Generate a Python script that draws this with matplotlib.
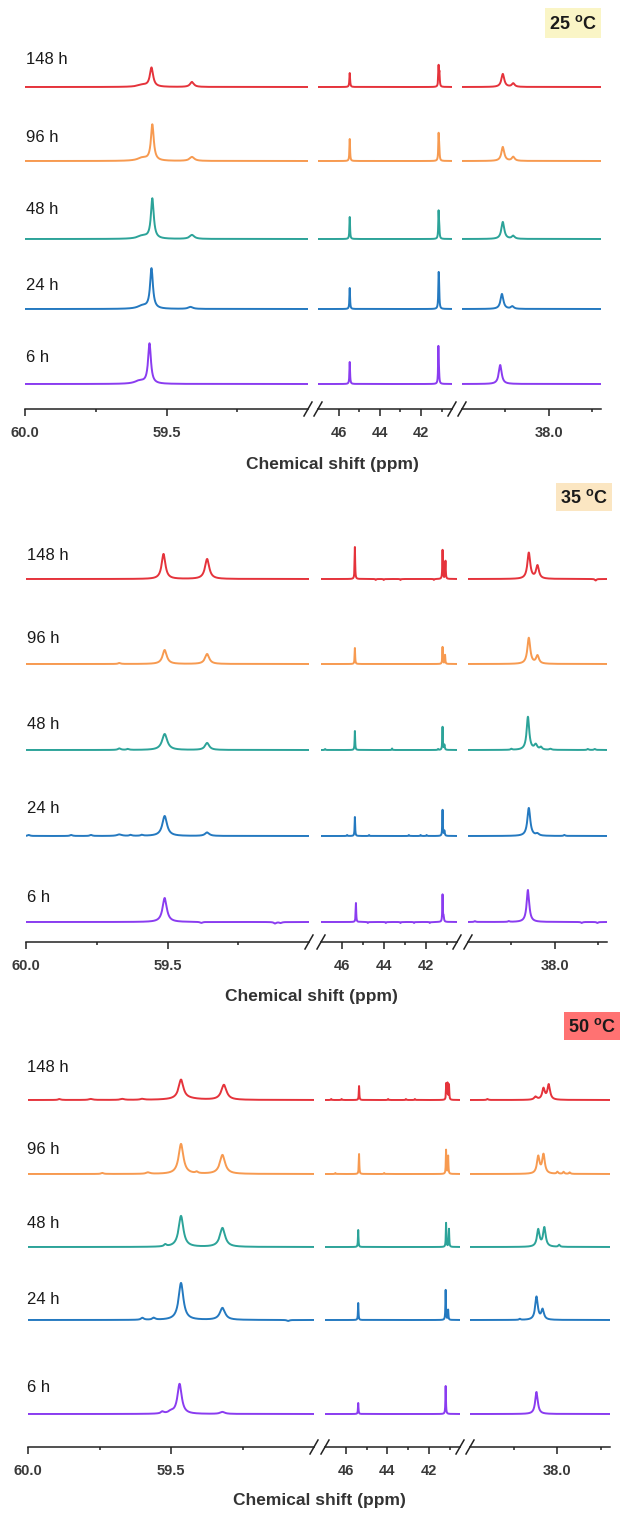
import numpy as np
import matplotlib
matplotlib.use("Agg")
import matplotlib.pyplot as plt
from matplotlib.lines import Line2D
from matplotlib.patches import Rectangle

plt.rcParams['font.family'] = ['Liberation Sans', 'DejaVu Sans']

# ---------------- data ----------------
times = ["148 h", "96 h", "48 h", "24 h", "6 h"]
line_colors = ["#E5333B", "#F79A50", "#2CA399", "#2479C0", "#8A3CF0"]
temperatures = ["25", "35", "50"]
box_colors = ["#FAF5C6", "#FBE6C2", "#FF7272"]

seg_ranges = [(60.0, 59.0), (47.0, 40.5), (39.0, 37.4)]
major_ticks = [[60.0, 59.5], [46, 44, 42], [38.0]]
minor_ticks = [[59.75, 59.25], [45, 43, 41], [38.5, 37.5]]
tick_labels = [["60.0", "59.5"], ["46", "44", "42"], ["38.0"]]
x_label = "Chemical shift (ppm)"

# peaks: (shift / ppm, height, half width / ppm)
peaks_25C = [
    # 148 h
    [(59.553, 19, 0.007), (59.585, 2, 0.02), (59.41, 5, 0.008),
     (45.46, 14, 0.02), (41.15, 20, 0.018), (41.11, 13, 0.018),
     (38.53, 13, 0.02), (38.41, 3.5, 0.02)],
    # 96 h
    [(59.55, 36, 0.006), (59.585, 3, 0.02), (59.41, 4, 0.01),
     (45.46, 22, 0.018), (41.15, 25, 0.018), (41.12, 12, 0.018),
     (38.53, 14, 0.02), (38.41, 4, 0.02)],
    # 48 h
    [(59.55, 40, 0.006), (59.585, 3, 0.02), (59.41, 4, 0.01),
     (45.46, 22, 0.018), (41.15, 26, 0.018), (41.12, 10, 0.018),
     (38.53, 17, 0.02), (38.41, 3, 0.02)],
    # 24 h
    [(59.553, 40, 0.006), (59.585, 3, 0.02), (59.415, 2, 0.01),
     (45.46, 21, 0.018), (41.15, 26, 0.018), (41.13, 22, 0.018),
     (38.54, 15, 0.02), (38.42, 2.5, 0.02)],
    # 6 h
    [(59.56, 40, 0.006), (59.595, 3, 0.02),
     (45.46, 22, 0.018), (41.16, 36, 0.016), (41.13, 8, 0.018),
     (38.56, 19, 0.02)],
]

peaks_35C = [
    # 148 h
    [(59.514, 25, 0.008), (59.36, 20, 0.009),
     (45.38, 32, 0.015), (44.38, -1, 0.02), (44.0, -1, 0.02), (43.2, -1, 0.02),
     (41.6, -1, 0.02), (41.19, 29, 0.015), (41.05, 18, 0.015),
     (38.30, 26, 0.02), (38.20, 13, 0.02), (37.53, -1.5, 0.01)],
    # 96 h
    [(59.67, 1, 0.005), (59.51, 14, 0.009), (59.36, 10, 0.009),
     (45.38, 16, 0.015), (41.19, 17, 0.015), (41.07, 9, 0.015),
     (38.30, 26, 0.02), (38.20, 8, 0.02)],
    # 48 h
    [(59.67, 1.5, 0.006), (59.64, 1, 0.005), (59.51, 16, 0.011), (59.36, 7, 0.009),
     (46.8, 1, 0.02), (45.38, 19, 0.015), (43.6, 1.5, 0.015), (41.4, 1, 0.02),
     (41.19, 23, 0.015), (41.1, 5, 0.02),
     (38.5, 1, 0.01), (38.31, 33, 0.018), (38.22, 5, 0.02), (38.16, 2.5, 0.015),
     (38.05, 1, 0.015), (37.62, 1, 0.01), (37.54, 1, 0.01)],
    # 24 h
    [(59.99, 1, 0.005), (59.84, 1, 0.005), (59.77, 1, 0.005), (59.67, 1.5, 0.01),
     (59.63, 1, 0.005), (59.59, 1, 0.005), (59.51, 20, 0.01), (59.36, 3.5, 0.009),
     (45.75, 1, 0.02), (45.38, 19, 0.015), (44.7, 1, 0.02), (42.8, 1, 0.02),
     (42.24, 1, 0.02), (41.95, 1, 0.02), (41.19, 26, 0.015), (41.1, 5, 0.02),
     (38.30, 28, 0.02), (38.2, 2, 0.02), (37.89, 1, 0.01)],
    # 6 h
    [(59.51, 24, 0.009), (59.38, -1, 0.005), (59.12, -1.5, 0.005), (59.10, -1, 0.005),
     (45.33, 19, 0.015), (44.76, -1, 0.02), (43.9, -1, 0.02), (43.2, -1, 0.02),
     (42.55, -1, 0.02), (41.8, -1, 0.02), (41.19, 27, 0.015), (41.14, 5, 0.02),
     (38.92, 0.8, 0.01), (38.53, 0.8, 0.01), (38.31, 32, 0.018),
     (37.69, -1, 0.01), (37.51, -1, 0.01)],
]

peaks_50C = [
    # 148 h
    [(59.89, 1, 0.005), (59.78, 1, 0.008), (59.67, 1, 0.008), (59.60, 1, 0.008),
     (59.45, 1.5, 0.05), (59.465, 19, 0.01), (59.315, 15, 0.011),
     (46.7, 1, 0.02), (46.2, 1, 0.02), (45.36, 14, 0.015), (43.96, 1, 0.02),
     (43.1, 1, 0.02), (42.67, 1, 0.02), (41.16, 16, 0.015), (41.10, 16, 0.015),
     (41.03, 15, 0.015),
     (38.8, 1, 0.01), (38.25, 3, 0.02), (38.16, 11, 0.018), (38.10, 15, 0.018)],
    # 96 h
    [(59.74, 1, 0.005), (59.58, 1.5, 0.008), (59.465, 30, 0.01), (59.41, 1.5, 0.005),
     (59.32, 19, 0.011),
     (46.5, 1, 0.02), (45.36, 20, 0.015), (44.15, 1, 0.02), (41.17, 24, 0.015),
     (41.07, 18, 0.015),
     (38.22, 17, 0.018), (38.16, 19, 0.018), (38.0, 2, 0.01), (37.93, 2, 0.01),
     (37.86, 1.5, 0.01)],
    # 48 h
    [(59.52, 2, 0.005), (59.465, 31, 0.01), (59.32, 19, 0.011),
     (45.4, 17, 0.015), (41.17, 24, 0.015), (41.03, 18, 0.015),
     (38.22, 17, 0.018), (38.15, 19, 0.018), (37.98, 2, 0.01)],
    # 24 h
    [(59.60, 2, 0.006), (59.56, 2, 0.006), (59.465, 37, 0.01), (59.32, 12, 0.011),
     (59.09, -1, 0.005),
     (45.4, 17, 0.015), (41.19, 30, 0.015), (41.07, 10, 0.015),
     (38.43, 1, 0.01), (38.24, 23, 0.018), (38.17, 10, 0.018)],
    # 6 h
    [(59.53, 2, 0.006), (59.50, 2, 0.01), (59.47, 30, 0.009), (59.32, 2, 0.01),
     (45.4, 11, 0.015), (41.19, 28, 0.015),
     (38.24, 22, 0.018)],
]
all_peaks = [peaks_25C, peaks_35C, peaks_50C]

# ---------------- layout (pixels) ----------------
W, H = 621, 1515
panels = [
    dict(axis_y=409, offsets=[322, 248, 170, 100, 25],
         segs=[(25, 308), (318, 452), (462, 601)],
         label_x=26, label_y=[59, 137, 210, 286, 357],
         xlabel_xy=(332, 464), box=(545, 8, 601, 38), ax_h=370),
    dict(axis_y=942, offsets=[363, 278, 192, 106, 20],
         segs=[(26, 309), (321, 457), (468, 607)],
         label_x=27, label_y=[556, 638, 724, 809, 897],
         xlabel_xy=(311, 997), box=(556, 483, 612, 511), ax_h=410),
    dict(axis_y=1447, offsets=[347, 273, 200, 127, 33],
         segs=[(28, 314), (325, 460), (470, 610)],
         label_x=27, label_y=[1068, 1150, 1224, 1300, 1387],
         xlabel_xy=(319, 1500), box=(564, 1012, 620, 1040), ax_h=400),
]


def fx(x):
    return x / W


def fy(y):
    return 1 - y / H


def spectrum(grid, peaks):
    y = np.zeros_like(grid)
    for c, h, w in peaks:
        y += h / (1 + ((grid - c) / w) ** 2)
    return y


fig = plt.figure(figsize=(W / 100, H / 100), dpi=100)

for p, lay in enumerate(panels):
    ay = lay["axis_y"]
    ah = lay["ax_h"]
    for s, (x0, x1) in enumerate(lay["segs"]):
        ax = fig.add_axes([fx(x0), fy(ay), (x1 - x0) / W, ah / H])
        ax.set_facecolor("none")
        lo, hi = seg_ranges[s]
        grid = np.linspace(hi, lo, 9000)
        for r in range(len(times)):
            ax.plot(grid, lay["offsets"][r] + spectrum(grid, all_peaks[p][r]),
                    color=line_colors[r], lw=1.4, solid_joinstyle="round")
        ax.set_xlim(lo, hi)
        ax.set_ylim(0, ah)
        for side in ("top", "right", "left"):
            ax.spines[side].set_visible(False)
        ax.spines["bottom"].set_linewidth(1.1)
        ax.spines["bottom"].set_color("#222222")
        ax.set_yticks([])
        ax.set_xticks(major_ticks[s])
        ax.set_xticklabels(tick_labels[s])
        ax.set_xticks(minor_ticks[s], minor=True)
        ax.tick_params(axis="x", which="major", direction="out", length=5,
                       width=1.1, color="#222222", pad=7.5)
        ax.tick_params(axis="x", which="minor", direction="out", length=2.5,
                       width=1.1, color="#222222")
        for t in ax.get_xticklabels():
            t.set_fontsize(10.5)
            t.set_fontweight("bold")
            t.set_color("#3a3a3a")
    # break marks
    segs = lay["segs"]
    for xb in (segs[0][1], segs[1][0], segs[1][1], segs[2][0]):
        fig.add_artist(Line2D([fx(xb - 4), fx(xb + 4)], [fy(ay + 7), fy(ay - 7)],
                              color="#222222", lw=1.1, transform=fig.transFigure))
    # row labels
    for r, t in enumerate(times):
        fig.text(fx(lay["label_x"]), fy(lay["label_y"][r]), t, fontsize=12,
                 ha="left", va="center", color="#1a1a1a")
    # x label
    fig.text(fx(lay["xlabel_xy"][0]), fy(lay["xlabel_xy"][1]), x_label,
             fontsize=12.5, fontweight="bold", ha="center", va="center",
             color="#333333")
    # temperature box
    bx0, by0, bx1, by1 = lay["box"]
    fig.add_artist(Rectangle((fx(bx0), fy(by1)), (bx1 - bx0) / W, (by1 - by0) / H,
                             transform=fig.transFigure, facecolor=box_colors[p],
                             edgecolor="none"))
    fig.text(fx((bx0 + bx1) / 2), fy((by0 + by1) / 2 + 1),
             temperatures[p] + r" $\mathregular{^{o}}$C", fontsize=13,
             fontweight="bold", ha="center", va="center", color="#1a1a1a")

fig.savefig("out.png", dpi=100)
